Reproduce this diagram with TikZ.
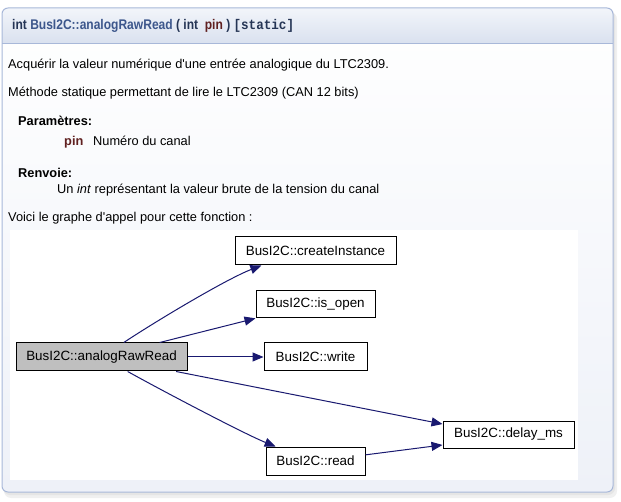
\documentclass[tikz,border=0pt]{standalone}
\usepackage{fontspec}
\setmainfont{Liberation Sans}
\newfontfamily\headfont[FakeStretch=0.86]{Liberation Sans}
\newfontfamily\codefont[FakeStretch=0.9]{Liberation Mono}
\usepackage{tikz}
\usetikzlibrary{arrows.meta,positioning,calc}
\definecolor{frameblue}{HTML}{A8B8D9}
\definecolor{headtop}{HTML}{F2F5FA}
\definecolor{headbot}{HTML}{DAE1EF}
\definecolor{bodybot}{HTML}{EEF1F8}
\definecolor{namedark}{HTML}{253555}
\definecolor{linkblue}{HTML}{3D578C}
\definecolor{paramred}{HTML}{602020}
\definecolor{callblue}{HTML}{191970}
\definecolor{rootgray}{HTML}{BFBFBF}

\begin{document}
\begin{tikzpicture}[x=1pt,y=-1pt,
  fn/.style={draw=black,fill=white,line width=1pt,inner sep=0pt,
             minimum height=28pt,font=\fontsize{13.4}{15}\selectfont},
  txt/.style={anchor=base west,inner sep=0pt,font=\fontsize{12.8}{15}\selectfont},
  call/.style={draw=callblue,line width=1pt,-{Triangle[length=11pt,width=9pt]}}]
  \useasboundingbox (0,0) rectangle (621,502);
  % panel with shadow
  \fill[black!6,rounded corners=7pt] (4,12) rectangle (617,498);
  \fill[black!10,rounded corners=7pt] (3,10) rectangle (615,495);
  \shade[top color=white,bottom color=bodybot,rounded corners=6pt]
    (2,8) rectangle (613,492);
  \begin{scope}
    \clip[rounded corners=6pt] (2,8) rectangle (613,492);
    \shade[top color=headtop,bottom color=headbot] (2,8) rectangle (613,43);
  \end{scope}
  \draw[frameblue] (2,43) -- (613,43);
  \draw[frameblue,line width=1pt,rounded corners=6pt] (2,8) rectangle (613,492);
  \node[txt,font=\headfont\bfseries\fontsize{14}{16}\selectfont,text=namedark] (proto) at (12,30)
    {int \textcolor{linkblue}{BusI2C::analogRawRead} ( int \ \textcolor{paramred}{pin} ) {\codefont\bfseries [static]}};

  % description
  \node[txt] (brief) at (8,69) {Acquérir la valeur numérique d\textquotesingle une entrée analogique du LTC2309.};
  \node[txt] (detail) at (8,97) {Méthode statique permettant de lire le LTC2309 (CAN 12 bits)};
  \node[txt,font=\bfseries\fontsize{12.8}{15}\selectfont] (params) at (18,126) {Paramètres:};
  \node[txt,font=\bfseries\fontsize{12.8}{15}\selectfont,text=paramred] (pname) at (64,146) {pin};
  \node[txt] (pdesc) at (93,146) {Numéro du canal};
  \node[txt,font=\bfseries\fontsize{12.8}{15}\selectfont] (ret) at (18,178) {Renvoie:};
  \node[txt] (rdesc) at (57,194) {Un \textit{int} représentant la valeur brute de la tension du canal};
  \node[txt] (graph) at (8,222) {Voici le graphe d\textquotesingle appel pour cette fonction :};

  % call graph
  \fill[white] (10,230) rectangle (578,480);
  \node[fn,fill=rootgray,minimum width=171pt] (main) at (101.5,357) {BusI2C::analogRawRead};
  \node[fn,minimum width=161pt] (ci) at (315.5,251) {BusI2C::createInstance};
  \node[fn,minimum width=119pt,minimum height=27pt] (io) at (315.5,304.5) {BusI2C::is\_open};
  \node[fn,minimum width=103pt] (wr) at (315.5,357) {BusI2C::write};
  \node[fn,minimum width=131pt,minimum height=27pt] (dm) at (508.5,434.5) {BusI2C::delay\_ms};
  \node[fn,minimum width=99pt] (rd) at (315.5,461) {BusI2C::read};

  \draw[call] (main.33) .. controls +(30,-20) and +(-36,14) .. (ci.195);
  \draw[call] (main.14) -- (io.193);
  \draw[call] (main.east) -- (wr.west);
  \draw[call] (main.-11) -- (dm.171);
  \draw[call] (main.-29) .. controls +(36,20) and +(-30,-12) .. (rd.160);
  \draw[call] (rd.7) -- (dm.189);
\end{tikzpicture}
\end{document}
